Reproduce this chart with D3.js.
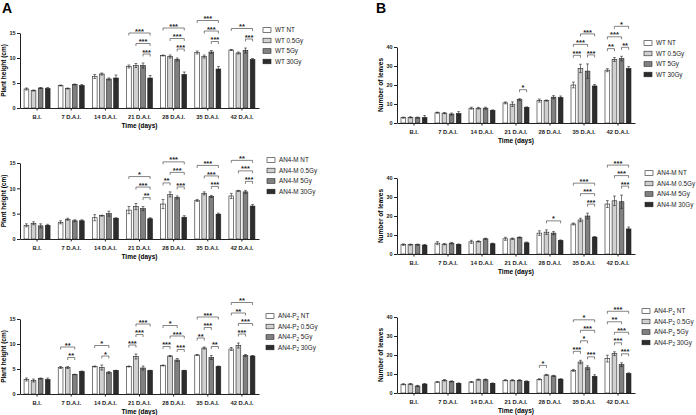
<!DOCTYPE html>
<html>
<head>
<meta charset="utf-8">
<script src="https://cdn.jsdelivr.net/npm/d3@7"></script>
<style>
body { margin: 0; background: #fff; }
text { font-family: "Liberation Sans", Arial, sans-serif; }
</style>
</head>
<body>
<svg id="chart" width="696" height="415"></svg>
<script>

// categories and series
var groups = ["B.I.", "7 D.A.I.", "14 D.A.I.", "21 D.A.I.", "28 D.A.I.", "35 D.A.I.", "42 D.A.I."];
var doses = ["NT", "0.5Gy", "5Gy", "30Gy"];
var doseColors = ["#ffffff", "#d0d0d0", "#808080", "#2d2d2d"];

// plant height (cm), one row per time point: NT, 0.5Gy, 5Gy, 30Gy
var heightWT = [[3.8,3.5,4.0,3.9],[4.5,3.9,4.7,4.5],[6.3,6.8,5.8,6.0],[8.3,8.5,8.5,6.0],[10.5,10.3,9.7,6.7],[11.1,10.3,11.2,7.8],[11.6,11.0,11.5,9.7]];
var heightWTErr = [[0.2,0.1,0.1,0.2],[0.1,0.1,0.1,0.2],[0.4,0.2,0.2,0.6],[0.3,0.4,0.5,0.5],[0.1,0.3,0.3,0.5],[0.3,0.3,0.3,0.5],[0.1,0.2,0.5,0.2]];
var heightWTSig = [[3,2,3,"***"],[3,1,3,"***"],[3,0,3,"***"],[4,2,3,"***"],[4,1,3,"***"],[4,0,3,"***"],
  [5,2,3,"***"],[5,1,3,"***"],[5,0,3,"***"],[6,2,3,"***"],[6,0,3,"**"]];

var heightM = [[2.7,3.1,2.6,2.7],[3.3,3.9,3.6,3.6],[4.2,4.6,5.0,4.1],[5.7,6.4,6.0,4.0],[6.9,8.8,8.2,4.3],[7.6,9.0,8.4,4.9],[8.5,9.5,9.3,6.5]];
var heightMErr = [[0.3,0.3,0.4,0.2],[0.3,0.2,0.2,0.2],[0.6,0.1,0.5,0.1],[0.7,0.6,0.4,0.2],[0.9,0.5,0.3,0.3],[0.2,0.3,0.2,0.2],[0.5,0.1,0.3,0.3]];
var heightMSig = [[3,2,3,"**"],[3,1,3,"***"],[3,0,3,"*"],[4,0,1,"**"],[4,2,3,"***"],[4,1,3,"***"],[4,0,3,"***"],
  [5,2,3,"***"],[5,1,3,"***"],[5,0,3,"***"],[6,2,3,"***"],[6,1,3,"***"],[6,0,3,"**"]];

var heightP = [[2.9,2.7,3.1,2.9],[5.3,5.3,3.9,4.5],[5.5,5.3,4.3,4.7],[5.5,7.5,5.2,4.7],[5.7,7.6,6.8,4.7],[7.8,9.2,7.3,5.5],[9.0,9.7,7.7,7.6]];
var heightPErr = [[0.3,0.3,0.1,0.3],[0.2,0.2,0.05,0.1],[0.1,0.5,0.2,0.05],[0.1,0.5,0.4,0.05],[0.1,0.1,0.3,0.05],[0.1,0.2,0.4,0.1],[0.3,0.5,0.2,0.1]];
var heightPSig = [[1,1,2,"**"],[1,0,2,"**"],[2,1,2,"*"],[2,0,2,"*"],[3,0,1,"***"],[3,1,2,"***"],[3,1,3,"***"],
  [4,0,1,"***"],[4,2,3,"***"],[4,1,3,"***"],[4,0,2,"*"],[5,0,1,"**"],[5,2,3,"**"],[5,1,2,"***"],[5,0,3,"***"],
  [6,1,2,"***"],[6,1,3,"***"],[6,0,2,"**"],[6,0,3,"**"]];

// number of leaves
var leavesWT = [[2.8,3.0,2.8,2.9],[5.4,5.2,4.7,5.0],[7.8,7.8,7.8,6.6],[10.6,9.9,12.3,8.2],[11.8,11.8,13.6,13.4],[20.0,28.7,27.3,19.5],[27.8,33.4,33.9,28.7]];
var leavesWTErr = [[0.3,0.3,0.3,1.0],[0.3,0.3,0.5,1.0],[0.5,0.4,0.5,0.3],[0.5,1.2,0.5,0.3],[0.8,0.3,0.8,0.8],[1.5,2.2,3.8,0.8],[0.8,1.0,1.2,1.0]];
var leavesWTSig = [[3,2,3,"*"],[5,0,1,"***"],[5,2,3,"***"],[5,0,2,"***"],[5,1,3,"***"],
  [6,0,1,"**"],[6,2,3,"**"],[6,0,2,"***"],[6,1,3,"*"]];

var leavesM = [[4.9,4.9,4.9,4.7],[5.7,5.2,5.7,5.0],[6.4,6.6,8.0,5.4],[8.0,8.0,8.7,5.9],[11.0,11.5,11.0,7.1],[15.8,17.9,20.0,8.9],[26.3,28.0,27.5,13.2]];
var leavesMErr = [[0.4,0.3,0.3,0.3],[0.8,0.3,0.4,0.3],[0.8,0.3,0.3,0.3],[0.8,0.4,0.3,0.4],[1.2,1.2,0.8,0.3],[0.5,0.9,1.5,0.3],[1.8,2.5,3.5,1.0]];
var leavesMSig = [[4,1,3,"*"],[5,2,3,"***"],[5,1,3,"***"],[5,0,3,"***"],[6,2,3,"***"],[6,1,3,"***"],[6,0,3,"***"]];

var leavesP = [[4.6,4.7,3.7,4.7],[5.8,6.7,6.1,5.1],[5.8,7.0,7.0,5.1],[6.7,6.7,6.7,6.1],[7.2,9.5,9.0,7.3],[11.9,16.3,13.3,8.8],[18.1,20.7,14.9,10.2]];
var leavesPErr = [[0.3,0.3,0.3,0.3],[0.2,0.4,0.3,0.2],[0.2,0.3,0.3,0.2],[0.3,0.3,0.3,0.3],[0.3,0.3,0.3,0.2],[0.5,0.9,1.0,0.8],[1.8,1.0,1.0,0.4]];
var leavesPSig = [[4,0,1,"*"],[5,0,1,"***"],[5,2,3,"***"],[5,1,2,"*"],[5,1,3,"***"],[5,0,3,"*"],
  [6,2,3,"***"],[6,1,2,"***"],[6,1,3,"***"],[6,0,2,"**"],[6,0,3,"***"]];

var heightTicks = [0, 5, 10, 15];
var leavesTicks = [0, 10, 20, 30, 40];

var svg = d3.select("#chart");

var panels = [
  {values: heightWT, errors: heightWTErr, sig: heightWTSig, line: ["WT", ""], ticks: heightTicks, title: "Plant height (cm)",
    box: {left: 20, right: 259, top: 33, bottom: 108}, legend: [263, 30]},
  {values: heightM, errors: heightMErr, sig: heightMSig, line: ["AN4-M", ""], ticks: heightTicks, title: "Plant height (cm)",
    box: {left: 20, right: 259, top: 163, bottom: 239}, legend: [267, 160]},
  {values: heightP, errors: heightPErr, sig: heightPSig, line: ["AN4-P", "2"], ticks: heightTicks, title: "Plant height (cm)",
    box: {left: 20, right: 259, top: 319, bottom: 394}, legend: [266, 316]},
  {values: leavesWT, errors: leavesWTErr, sig: leavesWTSig, line: ["WT", ""], ticks: leavesTicks, title: "Number of leaves",
    box: {left: 397, right: 635, top: 47, bottom: 123}, legend: [644, 43]},
  {values: leavesM, errors: leavesMErr, sig: leavesMSig, line: ["AN4-M", ""], ticks: leavesTicks, title: "Number of leaves",
    box: {left: 397, right: 635, top: 178, bottom: 254}, legend: [645, 173]},
  {values: leavesP, errors: leavesPErr, sig: leavesPSig, line: ["AN4-P", "2"], ticks: leavesTicks, title: "Number of leaves",
    box: {left: 397, right: 635, top: 317, bottom: 393}, legend: [642, 311]}
];

panels.forEach(drawPanel);

// panel letters
svg.append("text").attr("x", 2).attr("y", 13).style("font-size", "14px").style("font-weight", "bold").text("A");
svg.append("text").attr("x", 376).attr("y", 13).style("font-size", "14px").style("font-weight", "bold").text("B");

function drawPanel(p) {
  var b = p.box;
  var x = d3.scaleBand().domain(groups).range([b.left, b.right]);
  var xi = d3.scaleBand().domain(d3.range(doses.length)).range([-13, 13]).paddingInner(0.33);
  var y = d3.scaleLinear().domain([0, d3.max(p.ticks)]).range([b.bottom, b.top]);
  var g = svg.append("g");

  function barX(gi, di) { return x(groups[gi]) + x.bandwidth() / 2 + xi(di) + xi.bandwidth() / 2; }

  // bars + error bars
  p.values.forEach(function(row, gi) {
    row.forEach(function(v, di) {
      var cx = barX(gi, di), e = p.errors[gi][di];
      g.append("rect")
        .attr("x", cx - xi.bandwidth() / 2).attr("y", y(v))
        .attr("width", xi.bandwidth()).attr("height", y(0) - y(v))
        .attr("fill", doseColors[di]).attr("stroke", "#222").attr("stroke-width", 0.6);
      var eb = g.append("g").attr("stroke", "#222").attr("stroke-width", 0.6);
      eb.append("line").attr("x1", cx).attr("x2", cx).attr("y1", y(v - e)).attr("y2", y(v + e));
      eb.append("line").attr("x1", cx - 1.4).attr("x2", cx + 1.4).attr("y1", y(v + e)).attr("y2", y(v + e));
      eb.append("line").attr("x1", cx - 1.4).attr("x2", cx + 1.4).attr("y1", y(v - e)).attr("y2", y(v - e));
    });
  });

  // significance brackets, stacked above the bars and earlier brackets they overlap
  var placed = [];
  p.sig.forEach(function(s) {
    var gi = s[0], a = s[1], c = s[2];
    var yb = Infinity;
    for (var k = a; k <= c; k++) yb = Math.min(yb, y(p.values[gi][k] + p.errors[gi][k]) - 9);
    placed.forEach(function(q) {
      if (q.gi === gi && q.a <= c && a <= q.c) yb = Math.min(yb, q.y - 10.5);
    });
    placed.push({gi: gi, a: a, c: c, y: yb});
    var x1 = barX(gi, a), x2 = barX(gi, c);
    g.append("path")
      .attr("d", "M" + x1 + "," + (yb + 2.5) + "V" + yb + "H" + x2 + "V" + (yb + 2.5))
      .attr("fill", "none").attr("stroke", "#333").attr("stroke-width", 0.6);
    g.append("text")
      .attr("x", (x1 + x2) / 2).attr("y", yb + 0.6)
      .attr("text-anchor", "middle")
      .style("font-size", "7.5px").style("font-weight", "bold").attr("fill", "#222")
      .text(s[3]);
  });

  // axes
  var yAxis = g.append("g").attr("transform", "translate(" + b.left + ",0)")
    .call(d3.axisLeft(y).tickValues(p.ticks).tickSize(3).tickSizeOuter(0).tickPadding(1.5));
  var xAxis = g.append("g").attr("transform", "translate(0," + b.bottom + ")")
    .call(d3.axisBottom(x).tickSize(2.5).tickSizeOuter(0).tickPadding(4.5));
  [yAxis, xAxis].forEach(function(ax) {
    ax.select(".domain").attr("stroke", "#222").attr("stroke-width", 1);
    ax.selectAll(".tick line").attr("stroke", "#222").attr("stroke-width", 1);
    ax.selectAll("text").attr("fill", "#222").style("font-weight", "bold")
      .style("font-family", "'Liberation Sans', Arial, sans-serif");
  });
  yAxis.selectAll("text").style("font-size", "5.5px");
  xAxis.selectAll("text").style("font-size", "5.8px");

  g.append("text")
    .attr("x", (b.left + b.right) / 2).attr("y", b.bottom + 20)
    .attr("text-anchor", "middle").style("font-size", "6.5px").style("font-weight", "bold")
    .text("Time (days)");
  g.append("text")
    .attr("transform", "translate(" + (b.left - 14) + "," + ((b.top + b.bottom) / 2) + ") rotate(-90)")
    .attr("text-anchor", "middle").style("font-size", "6.5px").style("font-weight", "bold")
    .text(p.title);

  // legend
  doses.forEach(function(d, di) {
    var ly = p.legend[1] + di * 10.5;
    g.append("rect").attr("x", p.legend[0]).attr("y", ly - 2.3).attr("width", 8).attr("height", 4.6)
      .attr("fill", doseColors[di]).attr("stroke", "#222").attr("stroke-width", 0.6);
    var t = g.append("text").attr("x", p.legend[0] + 12).attr("y", ly + 2.3)
      .style("font-size", "6.3px").attr("fill", "#222");
    t.append("tspan").text(p.line[0]);
    if (p.line[1]) t.append("tspan").attr("dy", 1.5).style("font-size", "4.6px").text(p.line[1]);
    t.append("tspan").attr("dy", p.line[1] ? -1.5 : 0).text(" " + d);
  });
}
</script>
</body>
</html>
